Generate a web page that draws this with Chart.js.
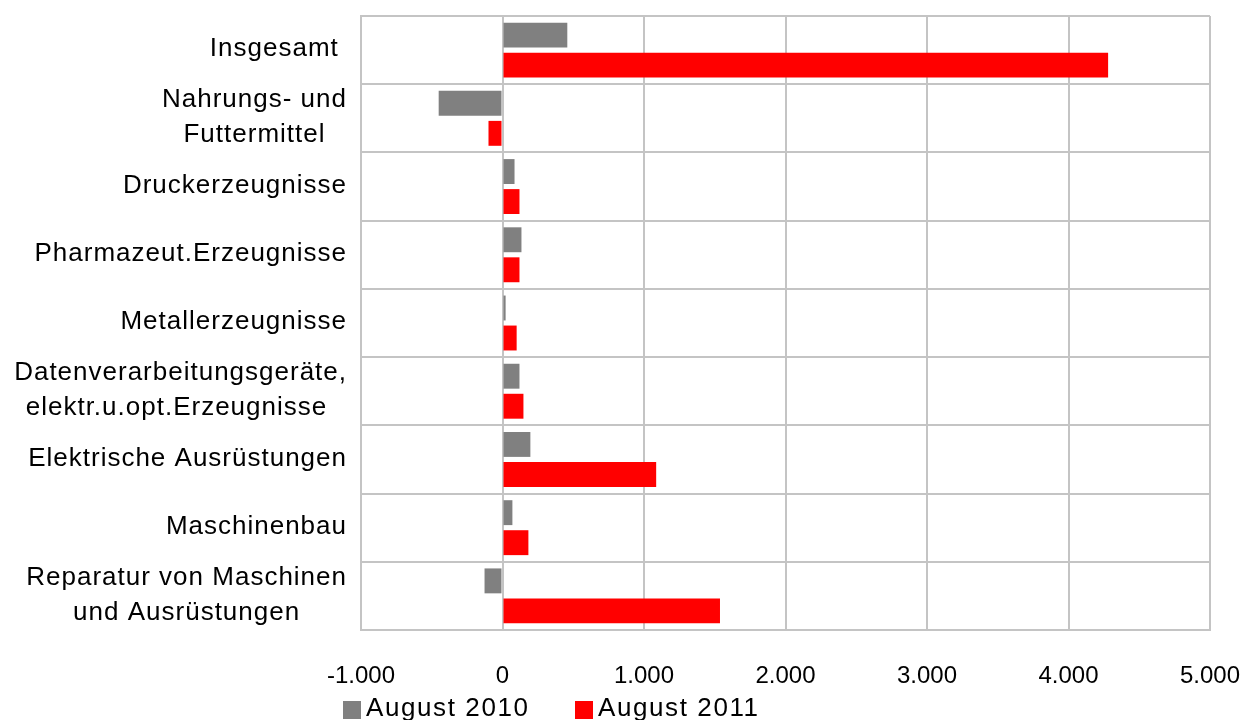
<!DOCTYPE html>
<html lang="de">
<head>
<meta charset="utf-8">
<title>Veränderung nach Wirtschaftszweigen</title>
<script src="https://cdn.jsdelivr.net/npm/chart.js@4/dist/chart.umd.min.js"></script>
<style>
  html, body { margin: 0; padding: 0; background: #fff; }
  #wrap { width: 1247px; height: 720px; position: relative; }
</style>
</head>
<body>
<div id="wrap"><canvas id="branchChart"></canvas></div>
<script>
const categories = [
  ["Insgesamt "],
  ["Nahrungs- und", "Futtermittel"],
  ["Druckerzeugnisse"],
  ["Pharmazeut.Erzeugnisse"],
  ["Metallerzeugnisse"],
  ["Datenverarbeitungsgeräte,", "elektr.u.opt.Erzeugnisse "],
  ["Elektrische Ausrüstungen"],
  ["Maschinenbau"],
  ["Reparatur von Maschinen", "und Ausrüstungen"],
];
const aug2010 = [458, -451, 85, 134, 22, 120, 197, 70, -127];
const aug2011 = [4280, -99, 120, 120, 100, 148, 1086, 183, 1537];
const xTicks = [-1000, 0, 1000, 2000, 3000, 4000, 5000];

const FONT = '"Liberation Sans", Arial, sans-serif';
const GRID = "#c4c4c4";

// category labels: block right-aligned, lines centred inside the block
const categoryLabels = {
  id: "categoryLabels",
  afterDraw(chart) {
    const { ctx } = chart;
    const y = chart.scales.y;
    const right = chart.chartArea.left - 14;
    ctx.save();
    ctx.font = "26px " + FONT;
    ctx.letterSpacing = "1px";
    ctx.fillStyle = "#000";
    ctx.textAlign = "center";
    ctx.textBaseline = "middle";
    chart.data.labels.forEach((lab, i) => {
      const lines = Array.isArray(lab) ? lab : [lab];
      const w = Math.max(...lines.map((l) => ctx.measureText(l).width));
      const cx = right - w / 2;
      const cy = y.getPixelForTick(i) - 1;
      lines.forEach((l, k) => ctx.fillText(l, cx, cy + (k - (lines.length - 1) / 2) * 35));
    });
    ctx.restore();
  },
};

// legend row under the axis
const bottomLegend = {
  id: "bottomLegend",
  afterDraw(chart) {
    const { ctx } = chart;
    const starts = [343, 575];
    ctx.save();
    ctx.font = "26px " + FONT;
    ctx.letterSpacing = "1.6px";
    ctx.textBaseline = "middle";
    ctx.textAlign = "left";
    chart.data.datasets.forEach((ds, i) => {
      const x = starts[i];
      ctx.fillStyle = ds.backgroundColor;
      ctx.fillRect(x, 701, 18, 18);
      ctx.fillStyle = "#000";
      ctx.fillText(ds.label, x + 23, 709);
    });
    ctx.restore();
  },
};

new Chart(document.getElementById("branchChart"), {
  type: "bar",
  data: {
    labels: categories,
    datasets: [
      { label: "August 2010", data: aug2010, backgroundColor: "#808080", categoryPercentage: 0.88, barPercentage: 0.83 },
      { label: "August 2011", data: aug2011, backgroundColor: "#ff0000", categoryPercentage: 0.88, barPercentage: 0.83 },
    ],
  },
  options: {
    indexAxis: "y",
    responsive: true,
    maintainAspectRatio: false,
    animation: false,
    layout: { padding: { top: 16, right: 37, left: 0, bottom: 0 } },
    plugins: { legend: { display: false }, tooltip: { enabled: false } },
    scales: {
      x: {
        min: -1000,
        max: 5000,
        afterBuildTicks: (axis) => { axis.ticks = xTicks.map((v) => ({ value: v })); },
        afterFit: (axis) => {
          axis.height = 90;
          axis.paddingLeft = 0;
          axis.paddingRight = 0;
        },
        grid: { color: GRID, lineWidth: 2, drawTicks: false },
        border: { color: GRID, width: 2 },
        ticks: {
          padding: 32,
          color: "#000",
          font: { family: FONT, size: 24 },
          maxRotation: 0,
          callback: (v) => v.toLocaleString("de-DE"),
        },
      },
      y: {
        afterFit: (axis) => { axis.width = 361; },
        grid: { color: GRID, lineWidth: 2, drawTicks: false, offset: true },
        border: { color: GRID, width: 2 },
        ticks: { display: false },
      },
    },
  },
  plugins: [categoryLabels, bottomLegend],
});
</script>
</body>
</html>
